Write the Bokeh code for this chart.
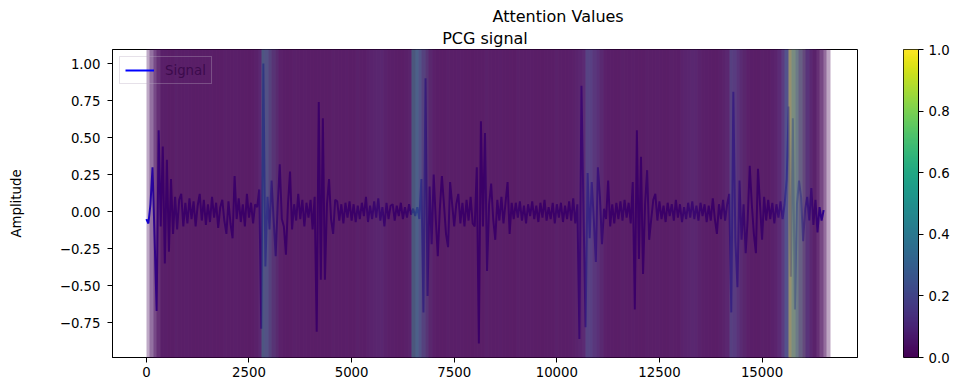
import numpy as np
from bokeh.plotting import figure
from bokeh.models import (ColumnDataSource, Range1d, FixedTicker, CustomJSTickFormatter,
                          NumeralTickFormatter, Title, Label, LinearColorMapper)
from bokeh.palettes import Viridis256
from bokeh.transform import linear_cmap
from bokeh.layouts import row
from bokeh.embed import file_html
from bokeh.resources import INLINE

# ---------------- data ----------------
SAMPLE_STEP = 50          # samples between the transcribed signal points
amplitude = [
    -0.05, -0.08, 0.05, 0.30, -0.17, -0.67, 0.55, -0.10, 0.44, -0.35,
    0.35, -0.27, 0.22, -0.15, 0.10, -0.12, 0.08, 0.12, -0.10, 0.06,
    -0.08, 0.09, -0.05, 0.07, -0.10, 0.04, 0.12, -0.06, 0.08, -0.09,
    0.05, -0.07, 0.10, -0.04, 0.06, -0.11, 0.03, 0.08, -0.06, -0.15,
    0.07, -0.08, -0.18, 0.24, -0.05, 0.09, -0.07, 0.05, -0.10, 0.12,
    -0.04, 0.06, -0.08, 0.05, 0.03, 0.15, -0.79, 1.00, -0.37, 0.10,
    -0.12, 0.21, -0.05, -0.30, 0.05, 0.32, -0.05, -0.10, -0.29, 0.05,
    0.27, -0.12, 0.05, -0.06, 0.12, -0.05, 0.08, -0.10, 0.06, -0.04,
    0.08, -0.12, 0.10, -0.81, 0.74, -0.46, 0.63, -0.46, 0.05, 0.22,
    -0.05, -0.15, 0.08, 0.07, -0.06, 0.05, -0.08, 0.06, -0.04, 0.07,
    -0.06, 0.05, -0.07, 0.04, -0.05, 0.06, -0.03, 0.10, -0.07, 0.04,
    -0.05, 0.07, -0.04, 0.09, -0.06, 0.03, -0.10, 0.06, -0.05, 0.04,
    0.05, -0.06, 0.04, -0.03, 0.06, -0.05, 0.03, -0.04, 0.05, -0.02,
    0.02, -0.03, 0.03, -0.05, 0.22, -0.68, 0.90, -0.57, 0.17, -0.22,
    0.25, -0.05, -0.30, 0.02, 0.24, 0.05, -0.15, -0.24, 0.20, 0.05,
    -0.10, 0.05, 0.12, -0.08, 0.06, -0.10, 0.08, -0.06, 0.10, -0.08,
    -0.10, 0.30, -0.89, 0.61, -0.10, 0.53, -0.40, 0.05, 0.19, -0.05,
    -0.19, 0.08, -0.06, 0.10, -0.08, 0.06, 0.20, -0.15, 0.06, -0.05,
    0.06, -0.04, 0.07, -0.06, 0.04, -0.08, 0.05, -0.03, 0.07, -0.05,
    0.04, -0.07, 0.06, -0.04, 0.08, -0.06, 0.03, -0.05, 0.06, -0.08,
    0.05, -0.04, 0.06, -0.07, 0.04, -0.05, 0.07, -0.06, 0.09, -0.08,
    0.05, -0.86, 0.85, 0.00, -0.78, 0.26, -0.18, 0.20, -0.05, -0.34,
    0.30, 0.10, -0.22, 0.02, -0.05, 0.21, -0.10, 0.05, -0.08, 0.06,
    -0.05, 0.07, -0.06, 0.08, -0.04, 0.06, -0.08, 0.20, -0.66, 0.55,
    -0.32, 0.37, -0.42, 0.05, 0.28, -0.19, -0.05, 0.08, 0.12, -0.06,
    0.07, -0.05, 0.04, -0.07, 0.06, -0.03, 0.05, -0.06, 0.08, -0.04,
    0.05, -0.07, 0.03, -0.05, 0.06, -0.04, 0.07, -0.05, 0.04, -0.06,
    0.06, -0.03, 0.05, -0.07, 0.04, -0.06, 0.09, -0.05, -0.15, 0.05,
    -0.05, 0.08, -0.06, 0.05, 0.12, -0.68, 0.81, -0.20, -0.51, 0.21,
    -0.19, 0.05, -0.28, -0.05, 0.31, 0.05, -0.15, -0.28, 0.29, 0.05,
    -0.19, 0.10, -0.06, 0.08, -0.05, 0.06, -0.08, 0.05, -0.04, 0.07,
    -0.05, 0.05, 0.22, 0.71, -0.44, 0.63, -0.66, 0.05, 0.21, 0.10,
    -0.20, 0.02, 0.10, -0.06, 0.16, -0.09, 0.08, -0.14, 0.03, -0.06,
    0.01,
]
sample_idx = np.arange(len(amplitude)) * SAMPLE_STEP

WINDOW_STRIDE = 85
WINDOW_LEN = 425
attention_weight = [
    0.02, 0.02, 0.01, 0.0, 0.0, 0.01, 0.0, 0.0, 0.02, 0.0, 0.0, 0.01, 0.0, 0.0, 0.0, 0.01,
    0.0, 0.0, 0.01, 0.0, 0.0, 0.0, 0.02, 0.0, 0.0, 0.01, 0.0, 0.0, 0.0, 0.0, 0.01, 0.02,
    0.06, 0.5, 0.12, 0.02, 0.0, 0.0, 0.01, 0.0, 0.0, 0.0, 0.02, 0.0, 0.0, 0.01, 0.0, 0.0,
    0.0, 0.01, 0.0, 0.0, 0.0, 0.02, 0.0, 0.0, 0.0, 0.01, 0.0, 0.0, 0.02, 0.0, 0.0, 0.02,
    0.03, 0.03, 0.03, 0.02, 0.0, 0.0, 0.01, 0.0, 0.0, 0.0, 0.02, 0.03, 0.55, 0.25, 0.08, 0.02,
    0.0, 0.0, 0.01, 0.0, 0.0, 0.0, 0.02, 0.0, 0.0, 0.01, 0.0, 0.0, 0.0, 0.0, 0.01, 0.0,
    0.0, 0.02, 0.0, 0.0, 0.0, 0.01, 0.0, 0.0, 0.0, 0.0, 0.02, 0.0, 0.0, 0.01, 0.0, 0.0,
    0.0, 0.0, 0.01, 0.0, 0.0, 0.02, 0.0, 0.0, 0.0, 0.01, 0.02, 0.03, 0.04, 0.06, 0.25, 0.08,
    0.03, 0.02, 0.0, 0.0, 0.01, 0.0, 0.0, 0.0, 0.02, 0.0, 0.0, 0.01, 0.0, 0.0, 0.0, 0.02,
    0.0, 0.0, 0.01, 0.0, 0.0, 0.0, 0.02, 0.0, 0.0, 0.03, 0.03, 0.03, 0.03, 0.02, 0.0, 0.0,
    0.01, 0.0, 0.0, 0.0, 0.02, 0.03, 0.05, 0.25, 0.06, 0.02, 0.0, 0.0, 0.01, 0.0, 0.0, 0.0,
    0.02, 0.0, 0.0, 0.02, 0.04, 0.08, 0.18, 0.3, 1.0, 0.35, 0.18, 0.08, 0.04, 0.02, 0.01, 0.0,
]
win_start = np.arange(len(attention_weight)) * WINDOW_STRIDE
win_end = win_start + WINDOW_LEN

x_ticks = [0, 2500, 5000, 7500, 10000, 12500, 15000]
y_ticks = [-0.75, -0.5, -0.25, 0.0, 0.25, 0.5, 0.75, 1.0]
cbar_ticks = [0.0, 0.2, 0.4, 0.6, 0.8, 1.0]

# ---------------- styling ----------------
FONT = "DejaVu Sans"
TICK_SIZE = "13.3px"
TITLE_SIZE = "16px"

# matplotlib-like 5% autoscale margins
xmin, xmax = float(sample_idx.min()), float(sample_idx.max())
ymin, ymax = float(min(amplitude)), float(max(amplitude))
xpad, ypad = 0.05 * (xmax - xmin), 0.05 * (ymax - ymin)

p = figure(width=870, height=391, output_backend="svg", toolbar_location=None,
           x_range=Range1d(xmin - xpad, xmax + xpad),
           y_range=Range1d(ymin - ypad, ymax + ypad),
           min_border_left=112, min_border_right=13, min_border_top=49, min_border_bottom=34,
           title="Attention Values")
p.title.text_font = FONT
p.title.text_font_size = TITLE_SIZE
p.title.text_font_style = "normal"
p.title.text_color = "black"
p.title.align = "left"
p.title.offset = 380
p.title.standoff = 0

sub = Title(text="PCG signal", align="center", standoff=3,
            text_font=FONT, text_font_size=TITLE_SIZE, text_font_style="normal",
            text_color="black")
p.add_layout(sub, "above")

p.grid.visible = False
p.outline_line_color = "black"
p.outline_line_width = 1
p.background_fill_color = "white"
p.border_fill_color = "white"

for ax in (p.xaxis[0], p.yaxis[0]):
    ax.major_label_text_font = FONT
    ax.major_label_text_font_size = TICK_SIZE
    ax.major_label_text_color = "black"
    ax.major_tick_out = 5
    ax.major_tick_in = 0
    ax.minor_tick_out = 0
    ax.minor_tick_in = 0
    ax.axis_line_color = "black"
    ax.major_tick_line_color = "black"

p.xaxis.ticker = FixedTicker(ticks=x_ticks)
p.xaxis.major_label_standoff = 4
p.yaxis.ticker = FixedTicker(ticks=y_ticks)
p.yaxis.major_label_standoff = 7
p.yaxis.formatter = CustomJSTickFormatter(code="return tick.toFixed(2).replace('-', '\u2212');")
p.yaxis.axis_label = "Amplitude"
p.yaxis.axis_label_text_font = FONT
p.yaxis.axis_label_text_font_size = TICK_SIZE
p.yaxis.axis_label_text_font_style = "normal"
p.yaxis.axis_label_text_color = "black"
p.yaxis.axis_label_standoff = 33

p.line(sample_idx, amplitude, line_color="blue", line_width=2, legend_label="Signal")

win_src = ColumnDataSource(dict(start=win_start, end=win_end, weight=attention_weight))
strips = p.vstrip(x0="start", x1="end", source=win_src,
                  fill_color=linear_cmap("weight", Viridis256, 0, 1),
                  fill_alpha=0.35, line_color=None)
strips.level = "overlay"

# In the original the attention spans are painted over the legend, so its
# box is almost invisible and its label shows through in dark purple.
lg = p.legend[0]
lg.location = "top_left"
lg.margin = 7
lg.padding = 5
lg.spacing = 0
lg.label_text_font = FONT
lg.label_text_font_size = TICK_SIZE
lg.label_text_color = "#3c0a4c"
lg.glyph_width = 29
lg.glyph_height = 16
lg.label_height = 16
lg.label_standoff = 11
lg.border_line_color = "#b8a8c0"
lg.border_line_alpha = 0.35
lg.border_line_width = 1
lg.background_fill_alpha = 0.0

# ---------------- colour bar ----------------
cmap = LinearColorMapper(palette=Viridis256, low=0, high=1)
grad = np.linspace(0, 1, 256).reshape(-1, 1)
cb = figure(width=109, height=391, output_backend="svg", toolbar_location=None,
            x_range=Range1d(0, 1), y_range=Range1d(0, 1),
            x_axis_location=None, y_axis_location="right",
            min_border_left=33, min_border_right=61, min_border_top=49, min_border_bottom=34)
cb.image(image=[grad], x=0, y=0, dw=1, dh=1, color_mapper=cmap)
cb.grid.visible = False
cb.outline_line_color = "black"
cb.outline_line_width = 1
cax = cb.yaxis[0]
cax.ticker = FixedTicker(ticks=cbar_ticks)
cax.formatter = NumeralTickFormatter(format="0.0")
cax.major_label_text_font = FONT
cax.major_label_text_font_size = TICK_SIZE
cax.major_label_text_color = "black"
cax.major_tick_out = 5
cax.major_tick_in = 0
cax.minor_tick_out = 0
cax.minor_tick_in = 0
cax.major_label_standoff = 5
cax.axis_line_color = "black"
cb.add_layout(Label(x=3.9, y=0.5, text="Attention Weight", angle=np.pi / 2,
                    text_align="center", text_baseline="middle",
                    text_font=FONT, text_font_size=TICK_SIZE, text_color="black"))

layout = row(p, cb)
open("out.html", "w").write(file_html(layout, INLINE))
